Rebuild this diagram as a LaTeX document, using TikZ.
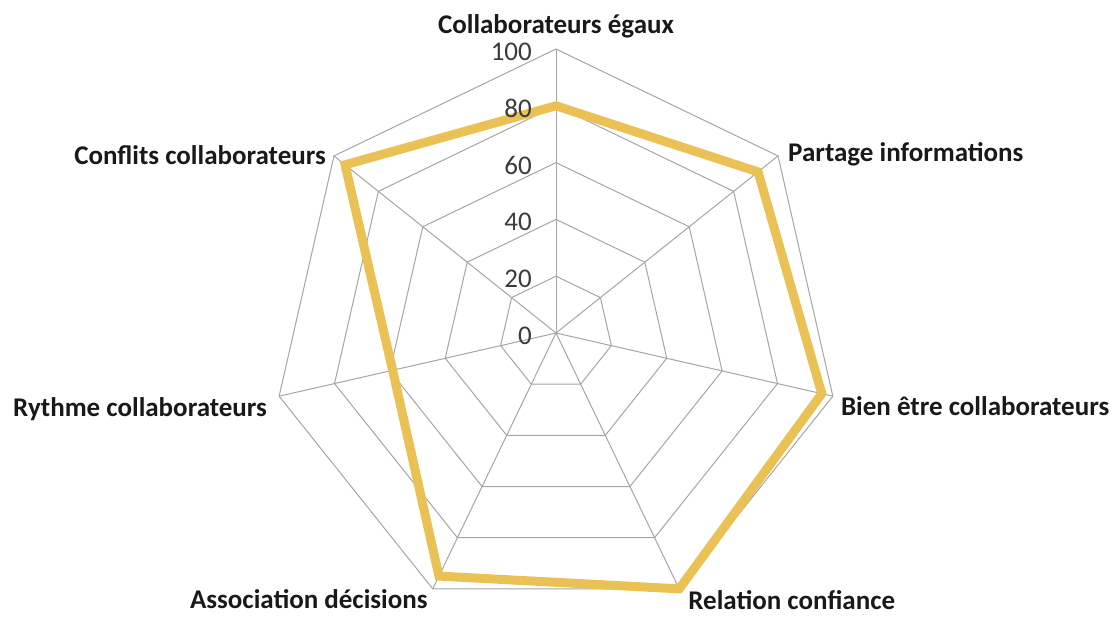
\documentclass[tikz,border=0pt]{standalone}
\usepackage{fontspec}
\setmainfont{Carlito}

\definecolor{radarGold}{RGB}{234,193,84}
\definecolor{radarGrid}{RGB}{165,165,165}
\definecolor{radarInk}{RGB}{25,25,25}

\def\radarCenterX{556}
\def\radarCenterY{333}
\def\radarUnit{2.84pt}
\def\radarStep{51.4286}
\def\radarLabelSize{27}

\tikzset{
    axislabel/.style = {font = \bfseries\fontsize{\radarLabelSize}{30}\selectfont,
        text = radarInk, inner sep = 0pt},
    ticklabel/.style = {font = \fontsize{\radarLabelSize}{30}\selectfont,
        text = radarInk!85, inner sep = 0pt, anchor = base east},
    gridline/.style = {draw = radarGrid, line width = 1pt},
    valueline/.style = {draw = radarGold, line width = 9pt, line join = miter},
}

\begin{document}
\begin{tikzpicture}[x = 1pt, y = -1pt]
    \useasboundingbox (0,0) rectangle (1116,616);
    \begin{scope}[shift = {(\radarCenterX,\radarCenterY)},
        x = \radarUnit, y = \radarUnit]
        %% spokes
        \foreach \i in {0,...,6} {
            \draw [gridline]
            (0,0) -- ({90-\i*\radarStep}:100)
            coordinate (axis\i)
            ;
        }
        %% rings
        \foreach \r in {20,40,...,100} {
            \draw [gridline]
            (90:\r)
            \foreach \i in {1,...,6} {
                -- ({90-\i*\radarStep}:\r)
            }
            -- cycle
            ;
        }
        %% values
        \foreach \v [count = \i from 0] in {80,91,96,100,95,59,95} {
            \coordinate (val\i) at ({90-\i*\radarStep}:\v);
        }
        \draw [valueline]
        (val0) -- (val1) -- (val2) -- (val3)
        -- (val4) -- (val5) -- (val6) -- cycle
        ;
        %% scale
        \foreach \r in {0,20,...,100} {
            \node [ticklabel, xshift = -24pt, yshift = -11.5pt]
            (tick\r) at (90:\r) {\r};
        }
        %% axis names
        \node [axislabel, anchor = base, yshift = 16pt]
        (egaux) at (axis0) {Collaborateurs égaux};
        \node [axislabel, anchor = base west, xshift = 10pt, yshift = -6pt]
        (partage) at (axis1) {Partage informations};
        \node [axislabel, anchor = base west, xshift = 8pt, yshift = -19pt]
        (bienetre) at (axis2) {Bien être collaborateurs};
        \node [axislabel, anchor = base west, xshift = 9pt, yshift = -21pt]
        (confiance) at (axis3) {Relation confiance};
        \node [axislabel, anchor = base east, xshift = -5pt, yshift = -20pt]
        (decisions) at (axis4) {Association décisions};
        \node [axislabel, anchor = base east, xshift = -12pt, yshift = -20pt]
        (rythme) at (axis5) {Rythme collaborateurs};
        \node [axislabel, anchor = base east, xshift = -8pt, yshift = -9pt]
        (conflits) at (axis6) {Conflits collaborateurs};
    \end{scope}
\end{tikzpicture}
\end{document}
